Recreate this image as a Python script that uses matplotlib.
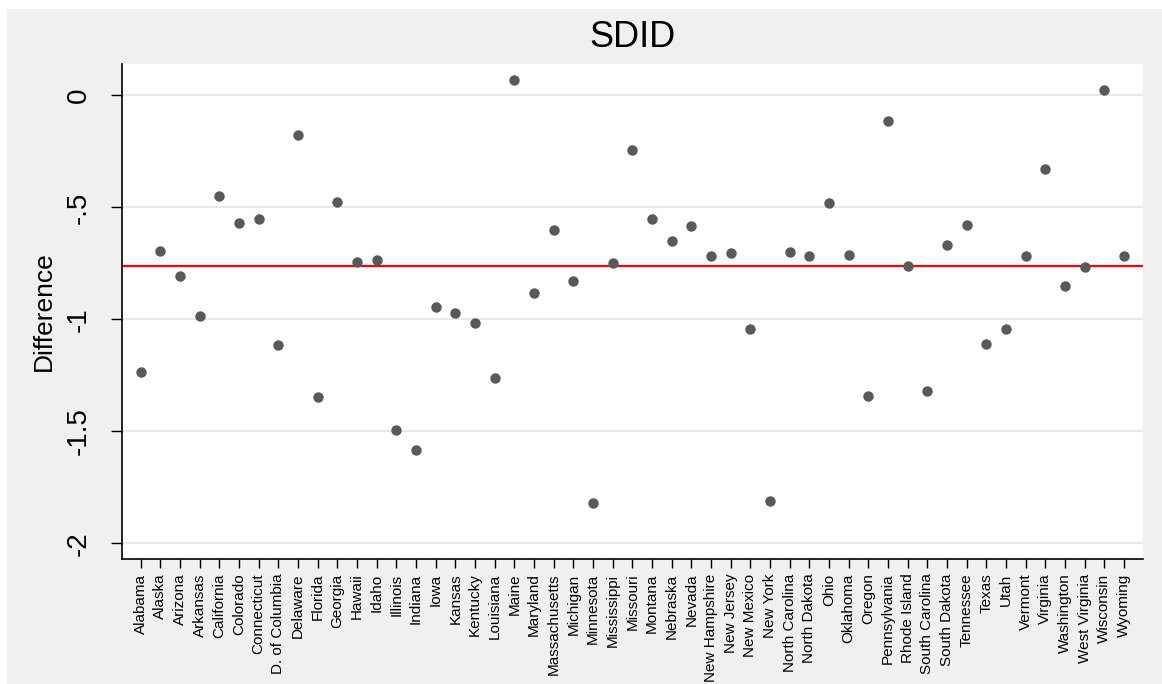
import numpy as np
import matplotlib
matplotlib.use("Agg")
import matplotlib.pyplot as plt
from matplotlib.patches import Rectangle

plt.rcParams['font.family'] = ['Liberation Sans', 'DejaVu Sans']

states = ['Alabama', 'Alaska', 'Arizona', 'Arkansas', 'California', 'Colorado',
          'Connecticut', 'D. of Columbia', 'Delaware', 'Florida', 'Georgia',
          'Hawaii', 'Idaho', 'Illinois', 'Indiana', 'Iowa', 'Kansas', 'Kentucky',
          'Louisiana', 'Maine', 'Maryland', 'Massachusetts', 'Michigan',
          'Minnesota', 'Mississippi', 'Missouri', 'Montana', 'Nebraska', 'Nevada',
          'New Hampshire', 'New Jersey', 'New Mexico', 'New York',
          'North Carolina', 'North Dakota', 'Ohio', 'Oklahoma', 'Oregon',
          'Pennsylvania', 'Rhode Island', 'South Carolina', 'South Dakota',
          'Tennessee', 'Texas', 'Utah', 'Vermont', 'Virginia', 'Washington',
          'West Virginia', 'Wisconsin', 'Wyoming']

diff = [-1.236, -0.693, -0.807, -0.987, -0.449, -0.569,
        -0.554, -1.115, -0.176, -1.347, -0.474,
        -0.742, -0.734, -1.493, -1.581, -0.943, -0.973, -1.014,
        -1.260, 0.068, -0.883, -0.599, -0.828,
        -1.818, -0.748, -0.246, -0.551, -0.651, -0.581,
        -0.718, -0.703, -1.041, -1.810,
        -0.699, -0.719, -0.481, -0.711, -1.342,
        -0.115, -0.763, -1.318, -0.667,
        -0.580, -1.112, -1.042, -0.719, -0.327, -0.849,
        -0.767, 0.026, -0.719]

avg_diff = -0.763

ytick_vals = [0, -0.5, -1, -1.5, -2]
ytick_labels = ['0', '-.5', '-1', '-1.5', '-2']

fig = plt.figure(figsize=(11.62, 6.84), dpi=100)
fig.patch.set_facecolor('white')
# stata-ish gray backdrop, leaves a thin white strip on left/top
fig.patches.append(Rectangle((7 / 1162, 0), 1, 1 - 9 / 684, transform=fig.transFigure,
                             facecolor='#f0f0f0', edgecolor='none', zorder=-10))

ax = fig.add_axes([0.105, 0.1827, 0.8786, 0.7237])
ax.set_facecolor('white')

x = np.arange(len(states))
for yv in ytick_vals:
    ax.axhline(yv, color='#e8e8e8', lw=1.5, zorder=1)
ax.axhline(avg_diff, color='#ff0000', lw=1.6, zorder=2)
ax.plot(x, diff, 'o', color='#595959', markersize=7.5, markeredgewidth=0, zorder=3)

ax.set_xlim(-0.95, len(states) - 0.03)
ax.set_ylim(-2.07, 0.14)

ax.set_xticks(x)
ax.set_xticklabels(states, rotation=90, fontsize=11)
ax.set_yticks(ytick_vals)
ax.set_yticklabels(ytick_labels, rotation=90, va='center', fontsize=20)

ax.tick_params(axis='x', direction='out', length=6.5, width=1, pad=4)
ax.tick_params(axis='y', direction='out', length=8, width=1, pad=14)

for s in ['top', 'right']:
    ax.spines[s].set_visible(False)
for s in ['left', 'bottom']:
    ax.spines[s].set_linewidth(1.2)

ax.set_ylabel('Difference', fontsize=19, labelpad=7)
ax.set_title('SDID', fontsize=26, pad=12)

fig.savefig('out.png', dpi=100)
